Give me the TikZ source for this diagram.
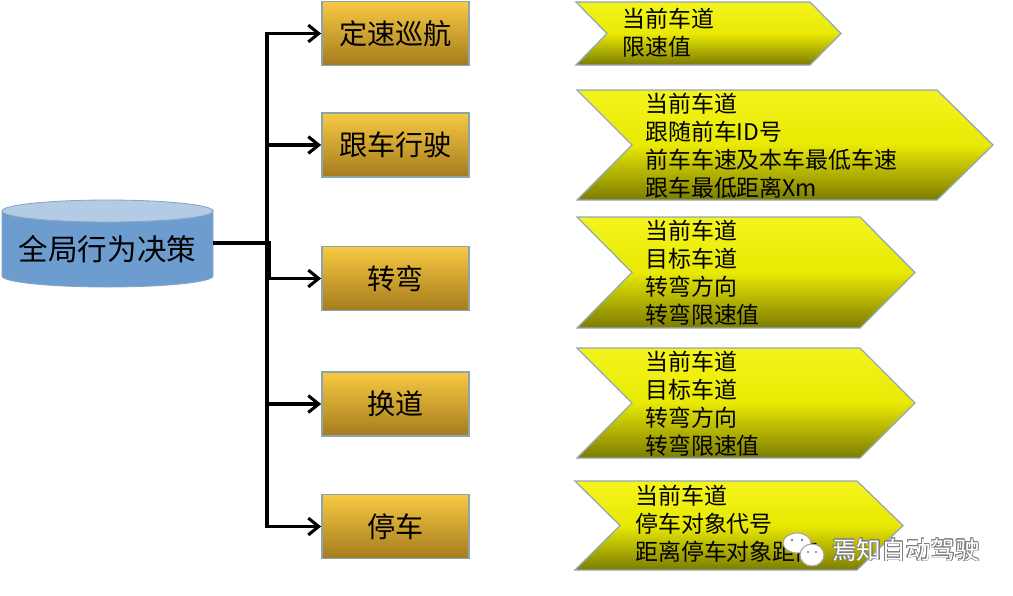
\documentclass[tikz,border=0pt]{standalone}
\usepackage{fontspec}
\setmainfont{Noto Sans CJK SC}
\usepackage{contour}
\usetikzlibrary{arrows.meta, positioning}
\definecolor{boxtop}{HTML}{F8C943}
\definecolor{boxbot}{HTML}{A47C1D}
\definecolor{boxline}{HTML}{8EA3AA}
\definecolor{chevtop}{HTML}{F4F41C}
\definecolor{chevmid}{HTML}{E9E904}
\definecolor{chevbot}{HTML}{7C7C02}
\definecolor{chevline}{HTML}{93A8B8}
\definecolor{cylbody}{HTML}{6D9CCE}
\definecolor{cyltop}{HTML}{B3CBE5}
\definecolor{cylline}{HTML}{88A5C5}
\contourlength{0.5pt}

\tikzset{
  behavior/.style={rectangle, draw=boxline, line width=1.2pt, top color=boxtop, bottom color=boxbot,
    minimum width=3.675cm, minimum height=1.6cm, font=\fontsize{20}{24}\selectfont},
  chevron/.style={draw=chevline, line width=0.9pt, top color=chevtop, bottom color=chevbot, middle color=chevmid},
  info/.style={anchor=west, align=left, inner sep=0pt, font=\fontsize{16.3}{19.9}\selectfont},
  link/.style={line width=2.2pt, -{Straight Barb[length=2.6mm, width=4.2mm]}},
}

\begin{document}
\begin{tikzpicture}[x=0.025cm, y=-0.025cm]
\useasboundingbox (0,0) rectangle (1013,595);

% Cylinder
\filldraw[fill=cylbody, draw=cylline, line width=0.6pt] (2,211) -- (2,276)
  arc[start angle=180, end angle=0, x radius=105.5, y radius=11] -- (213,211)
  arc[start angle=0, end angle=180, x radius=105.5, y radius=11] -- cycle;
\filldraw[fill=cyltop, draw=cylline, line width=0.6pt] (107.5,211) ellipse[x radius=105.5, y radius=11];
\node[font=\fontsize{21}{25}\selectfont, minimum width=5.275cm, inner sep=0pt] (global) at (107.5,249) {全局行为决策};

% Behavior boxes
\node[behavior] (cruise) at (395.5,33.5) {定速巡航};
\node[behavior] (follow) at (395.5,145) {跟车行驶};
\node[behavior] (turn) at (395.5,278.5) {转弯};
\node[behavior] (lanechange) at (395.5,404) {换道};
\node[behavior] (stop) at (395.5,526.5) {停车};

% Connectors
\coordinate (trunk) at (267,0);
\coordinate (split) at (269,243);
\draw[link] (trunk |- follow.west) |- (cruise);
\draw[link] (trunk |- follow.west) |- (stop);
\draw[link] (trunk |- follow.west) -- (follow);
\draw[link] (trunk |- lanechange.west) -- (lanechange);
\draw[link] (split -| global.east) -- (split) |- (turn);

% Chevrons
\draw[chevron] (576,2) -- (810,2) -- (841,33.5) -- (810,65) -- (576,65) -- (607,33.5) -- cycle;
\draw[chevron] (577,90) -- (937,90) -- (993,145) -- (937,200) -- (577,200) -- (632,145) -- cycle;
\draw[chevron] (577,217) -- (860,217) -- (915,272.5) -- (860,328) -- (577,328) -- (632,272.5) -- cycle;
\draw[chevron] (577,348) -- (860,348) -- (915,403) -- (860,458) -- (577,458) -- (632,403) -- cycle;
\draw[chevron] (575,481) -- (857,481) -- (903,525.5) -- (857,570) -- (575,570) -- (620,525.5) -- cycle;

% Chevron texts
\node[info] (cruiseinfo) at (622,32.5) {当前车道\\限速值};
\node[info] (followinfo) at (645,146) {当前车道\\跟随前车ID号\\前车车速及本车最低车速\\跟车最低距离Xm};
\node[info] (turninfo) at (645,272.5) {当前车道\\目标车道\\转弯方向\\转弯限速值};
\node[info] (laneinfo) at (645,404) {当前车道\\目标车道\\转弯方向\\转弯限速值};
\node[info] (stopinfo) at (635,524) {当前车道\\停车对象代号\\距离停车对象距离};

% Watermark
\filldraw[fill=white, draw=gray!70, line width=0.8pt] (797,543) ellipse[x radius=14, y radius=10];
\filldraw[fill=white, draw=gray!70, line width=0.8pt] (812,555) ellipse[x radius=12, y radius=11];
\fill[gray] (792,540) circle[radius=1.4] (802,540) circle[radius=1.4]
  (808,552) circle[radius=1.2] (816,552) circle[radius=1.2];
\node[font=\fontsize{17.5}{20}\selectfont, anchor=west, inner sep=0pt] (mark) at (832,550)
  {\contour{gray}{\textcolor{white}{焉知自动驾驶}}};
\end{tikzpicture}
\end{document}
